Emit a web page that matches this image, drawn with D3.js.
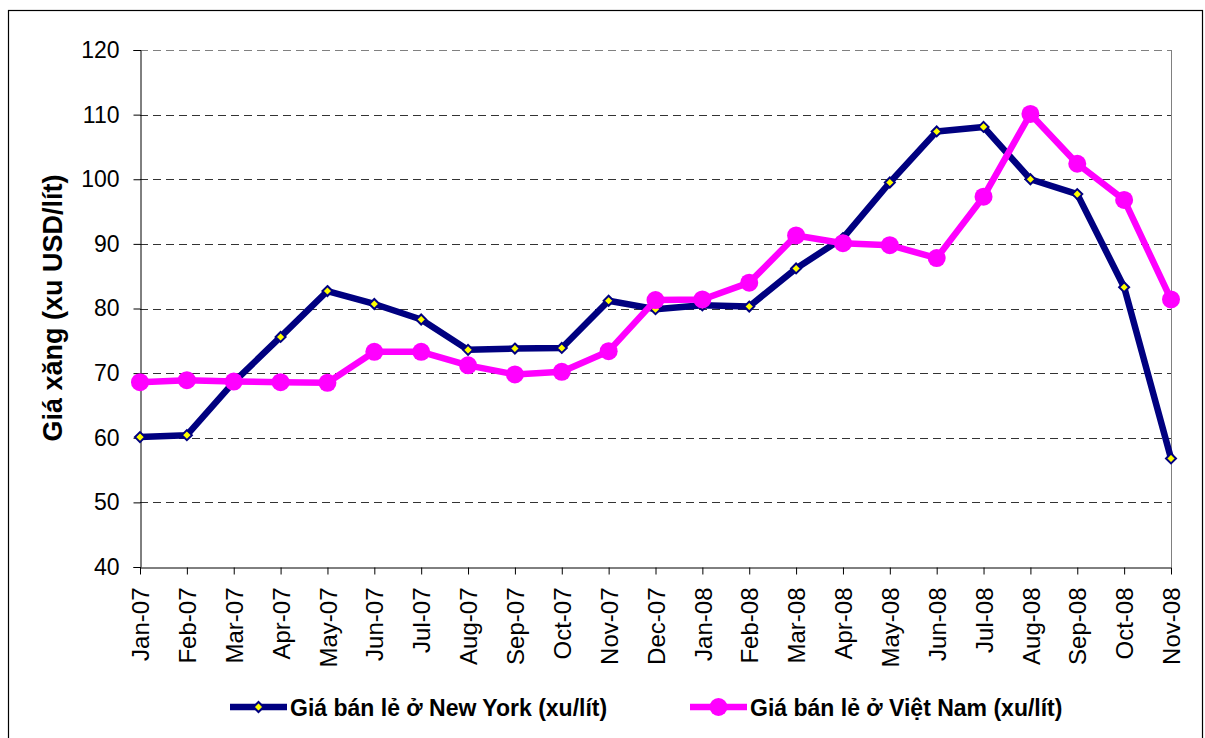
<!DOCTYPE html>
<html><head><meta charset="utf-8">
<script src="https://cdn.jsdelivr.net/npm/d3@7"></script>
<style>body{margin:0;background:#fff}svg{display:block}text{font-family:"Liberation Sans",Arial,sans-serif}</style>
</head><body>
<svg id="c" width="1205" height="738"></svg>
<script>
const months = ["Jan-07","Feb-07","Mar-07","Apr-07","May-07","Jun-07","Jul-07","Aug-07","Sep-07","Oct-07","Nov-07","Dec-07",
"Jan-08","Feb-08","Mar-08","Apr-08","May-08","Jun-08","Jul-08","Aug-08","Sep-08","Oct-08","Nov-08"];
const newYork = [60.1,60.4,68.6,75.6,82.7,80.7,78.3,73.6,73.8,73.9,81.2,79.9,80.5,80.3,86.2,90.9,99.5,107.4,108.1,100.0,97.7,83.3,56.8];
const vietNam = [68.6,68.9,68.7,68.6,68.5,73.3,73.3,71.2,69.8,70.2,73.4,81.3,81.4,84.0,91.3,90.1,89.8,87.8,97.3,110.1,102.4,96.8,81.4];
const yTicks = [40,50,60,70,80,90,100,110,120];
const seriesNames = ["Giá bán lẻ ở New York (xu/lít)","Giá bán lẻ ở Việt Nam (xu/lít)"];
const yTitle = "Giá xăng (xu USD/lít)";

const svg = d3.select("#c");
const L = 140, R = 1171, T = 50, B = 567;
const x = d3.scalePoint().domain(months).range([L, R]);
const y = d3.scaleLinear().domain([40,120]).range([B, T]);

// outer border
svg.append("rect").attr("x",8.5).attr("y",10.5).attr("width",1194).attr("height",740)
  .attr("fill","none").attr("stroke","#000").attr("stroke-width",1.2);

// gridlines
svg.append("g").selectAll("line").data(yTicks.filter(d=>d>40)).join("line")
  .attr("x1",L).attr("x2",R).attr("y1",d=>Math.round(y(d))+0.5).attr("y2",d=>Math.round(y(d))+0.5)
  .attr("stroke",d=>d===120?"#808080":"#333").attr("stroke-dasharray","8,5").attr("stroke-width",1);
// right border of plot
svg.append("line").attr("x1",R+0.5).attr("x2",R+0.5).attr("y1",T).attr("y2",B).attr("stroke","#808080");

// y axis
const yAxis = d3.axisLeft(y).tickValues(yTicks).tickSize(7).tickPadding(14);
const gy = svg.append("g").attr("transform",`translate(${L+0.5},0)`).call(yAxis);
gy.select(".domain").attr("stroke","#000");
gy.selectAll(".tick line").attr("stroke","#000");
gy.selectAll("text").attr("font-size","23px").attr("fill","#000").attr("font-family","Liberation Sans, Arial, sans-serif");

// x axis
const xAxis = d3.axisBottom(x).tickSize(7).tickSizeOuter(0);
const gx = svg.append("g").attr("transform",`translate(0,${B+0.5})`).call(xAxis);
gx.select(".domain").attr("stroke","#000");
gx.selectAll(".tick line").attr("stroke","#000");
gx.selectAll("text").attr("font-size","24px").attr("fill","#000").attr("font-family","Liberation Sans, Arial, sans-serif")
  .attr("text-anchor","end").attr("transform","rotate(-90)").attr("x",-20).attr("y",0).attr("dy","0.36em");

// y title
svg.append("text").attr("transform","translate(62,308) rotate(-90)").attr("text-anchor","middle")
  .attr("font-size","27px").attr("font-weight","bold").text(yTitle);

const line = d3.line().x((d,i)=>x(months[i])).y(d=>y(d));
const diamond = "M0,-5L5,0L0,5L-5,0Z";

// NY series
svg.append("path").datum(newYork).attr("d",line).attr("fill","none").attr("stroke","#000080")
  .attr("stroke-width",6.5).attr("stroke-linejoin","round");
svg.append("g").selectAll("path").data(newYork).join("path")
  .attr("transform",(d,i)=>`translate(${x(months[i])},${y(d)})`).attr("d",diamond)
  .attr("fill","#ffff00").attr("stroke","#000080").attr("stroke-width",2);

// VN series
svg.append("path").datum(vietNam).attr("d",line).attr("fill","none").attr("stroke","#ff00ff")
  .attr("stroke-width",6.5).attr("stroke-linejoin","round");
svg.append("g").selectAll("circle").data(vietNam).join("circle")
  .attr("cx",(d,i)=>x(months[i])).attr("cy",d=>y(d)).attr("r",9).attr("fill","#ff00ff");

// legend
const lg = svg.append("g");
const items = [{x0:230,color:"#000080",type:"d"},{x0:690,color:"#ff00ff",type:"c"}];
items.forEach((it,k)=>{
  const g = lg.append("g");
  g.append("line").attr("x1",it.x0).attr("x2",it.x0+57).attr("y1",707).attr("y2",707)
    .attr("stroke",it.color).attr("stroke-width",6.5);
  if(it.type==="d"){
    g.append("path").attr("d",diamond).attr("transform",`translate(${it.x0+28.5},707)`)
      .attr("fill","#ffff00").attr("stroke","#000080").attr("stroke-width",2);
  } else {
    g.append("circle").attr("cx",it.x0+28.5).attr("cy",707).attr("r",9).attr("fill","#ff00ff");
  }
  g.append("text").attr("x",it.x0+60).attr("y",716).attr("font-size","23px").attr("font-weight","bold")
    .text(seriesNames[k]);
});
</script>
</body></html>
